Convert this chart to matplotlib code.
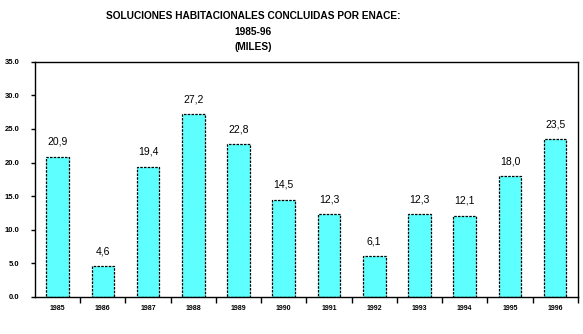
import matplotlib
matplotlib.use("Agg")
import matplotlib.pyplot as plt
from matplotlib.ticker import FormatStrFormatter

years = ["1985", "1986", "1987", "1988", "1989", "1990",
         "1991", "1992", "1993", "1994", "1995", "1996"]
values = [20.9, 4.6, 19.4, 27.2, 22.8, 14.5, 12.3, 6.1, 12.3, 12.1, 18.0, 23.5]
yticks = [0, 5, 10, 15, 20, 25, 30, 35]

plt.rcParams["font.family"] = ["Liberation Sans", "DejaVu Sans"]

fig = plt.figure(figsize=(5.83, 3.34), dpi=100)
ax = fig.add_axes([0.060, 0.111, 0.931, 0.704])

x = list(range(len(years)))
bars = ax.bar(x, values, width=0.5, color="#5EFFFF", edgecolor="black",
              linewidth=0.9, linestyle=(0, (2, 1)))

for xi, v in zip(x, values):
    ax.annotate(f"{v:.1f}".replace(".", ","), (xi, v), xytext=(0, 7),
                textcoords="offset points", ha="center", va="bottom",
                fontsize=7.5)

ax.set_xlim(-0.5, len(years) - 0.5)
ax.set_ylim(0, 35)
ax.set_yticks(yticks)
ax.yaxis.set_major_formatter(FormatStrFormatter("%.1f"))
ax.set_xticks(x)
ax.set_xticklabels(years, fontsize=5, fontweight="bold")
ax.set_xticks([i + 0.5 for i in x], minor=True)
ax.tick_params(axis="x", which="major", length=0, pad=6)
ax.tick_params(axis="x", which="minor", length=4, width=1, direction="out")
ax.tick_params(axis="y", length=3, width=1, labelsize=5.5, pad=8)
for lbl in ax.get_yticklabels():
    lbl.set_fontweight("bold")

for side in ["left", "bottom", "top", "right"]:
    ax.spines[side].set_linewidth(1)
    ax.spines[side].set_color("black")

title_font = dict(ha="center", va="center", fontsize=7.3, fontweight="bold")
fig.text(253 / 583, 1 - 16 / 334, "SOLUCIONES HABITACIONALES CONCLUIDAS POR ENACE:",
         **title_font)
fig.text(253 / 583, 1 - 32 / 334, "1985-96", **title_font)
fig.text(253 / 583, 1 - 47 / 334, "(MILES)", **title_font)

fig.savefig("out.png", dpi=100)
